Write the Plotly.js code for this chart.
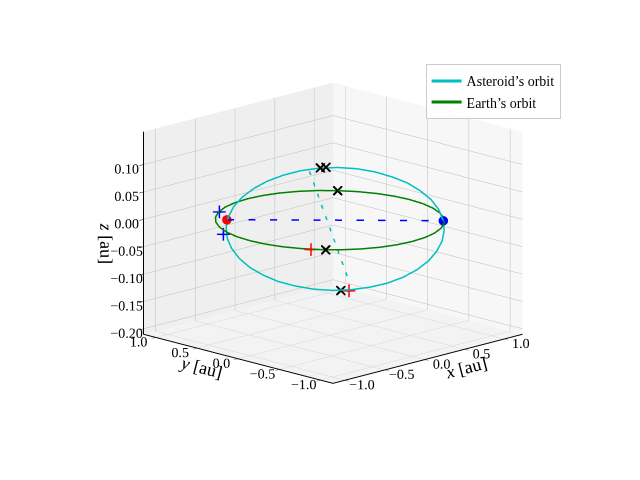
<!DOCTYPE html>
<html><head><meta charset="utf-8">
<script src="https://cdn.plot.ly/plotly-3.0.1.min.js"></script>
<style>html,body{margin:0;padding:0;background:#fff}#chart{width:640px;height:480px}#err{position:absolute;left:5px;top:5px;font:12px sans-serif;color:red}</style>
</head><body><div id="chart"></div><div id="err"></div>
<script>
// Earth's orbit (unit circle in the ecliptic), sampled every 10 degrees
const earthX = [1, 0.985, 0.940, 0.866, 0.766, 0.643, 0.5, 0.342, 0.174, 0, -0.174, -0.342, -0.5, -0.643, -0.766, -0.866, -0.940, -0.985, -1, -0.985, -0.940, -0.866, -0.766, -0.643, -0.5, -0.342, -0.174, 0, 0.174, 0.342, 0.5, 0.643, 0.766, 0.866, 0.940, 0.985, 1];
const earthY = [0, 0.174, 0.342, 0.5, 0.643, 0.766, 0.866, 0.940, 0.985, 1, 0.985, 0.940, 0.866, 0.766, 0.643, 0.5, 0.342, 0.174, 0, -0.174, -0.342, -0.5, -0.643, -0.766, -0.866, -0.940, -0.985, -1, -0.985, -0.940, -0.866, -0.766, -0.643, -0.5, -0.342, -0.174, 0];
const earthZ = [0,0,0,0,0,0,0,0,0,0,0,0,0,0,0,0,0,0,0,0,0,0,0,0,0,0,0,0,0,0,0,0,0,0,0,0,0];

// Asteroid's orbit (inclined ellipse)
const astX = [-0.725, -0.784, -0.816, -0.818, -0.792, -0.737, -0.657, -0.552, -0.426, -0.284, -0.129, 0.035, 0.201, 0.365, 0.522, 0.667, 0.795, 0.904, 0.989, 1.048, 1.080, 1.082, 1.056, 1.001, 0.921, 0.816, 0.690, 0.548, 0.393, 0.229, 0.063, -0.101, -0.258, -0.403, -0.531, -0.640, -0.725];
const astY = [-0.345, -0.191, -0.029, 0.136, 0.299, 0.454, 0.598, 0.725, 0.832, 0.916, 0.974, 1.004, 1.005, 0.978, 0.923, 0.842, 0.738, 0.612, 0.470, 0.316, 0.154, -0.011, -0.174, -0.329, -0.472, -0.600, -0.707, -0.791, -0.848, -0.878, -0.880, -0.853, -0.798, -0.717, -0.612, -0.487, -0.345];
const astZ = [0.131, 0.119, 0.103, 0.083, 0.060, 0.035, 0.007, -0.021, -0.050, -0.077, -0.103, -0.127, -0.147, -0.164, -0.176, -0.184, -0.187, -0.185, -0.178, -0.167, -0.151, -0.131, -0.108, -0.082, -0.055, -0.026, 0.002, 0.030, 0.056, 0.079, 0.100, 0.116, 0.129, 0.137, 0.140, 0.138, 0.131];

// Line of nodes (blue dashed) and apsidal line (cyan dashed)
const nodeX = [-0.636, 0.700];
const nodeY = [0.636, -0.700];
const nodeZ = [0, 0];
const apsX = [-0.669, 0.828];
const apsY = [-0.399, 0.557];
const apsZ = [0.130, -0.169];

// Point markers
const redDotX = [-0.636], redDotY = [0.636], redDotZ = [0];
const blueDotX = [0.700], blueDotY = [-0.700], blueDotZ = [0];
const blackXX = [-0.636, -0.613, 0.765, -0.744, 0.846];
const blackXY = [-0.500, -0.545, 0.644, -0.669, 0.684];
const blackXZ = [0.139, 0.141, 0, 0, -0.187];
const redPlusX = [-0.825, 0.895];
const redPlusY = [-0.566, 0.635];
const redPlusZ = [0, -0.187];
const bluePlusX = [-0.487, -0.501];
const bluePlusY = [0.873, 0.811];
const bluePlusZ = [0, -0.038];

// Ticks
const xyTicks = [-1.0, -0.5, 0.0, 0.5, 1.0];
const xyTickText = ['\u22121.0', '\u22120.5', '0.0', '0.5', '1.0'];
const zTicks = [-0.20, -0.15, -0.10, -0.05, 0.00, 0.05, 0.10];
const zTickText = ['\u22120.20\u00a0\u00a0', '\u22120.15\u00a0\u00a0', '\u22120.10\u00a0\u00a0', '\u22120.05\u00a0\u00a0', '0.00\u00a0\u00a0', '0.05\u00a0\u00a0', '0.10\u00a0\u00a0'];

const FONT = 'Liberation Serif, DejaVu Serif, serif';

const traces = [
  {type:'scatter3d', mode:'lines', name:'Asteroid\u2019s orbit', x:astX, y:astY, z:astZ,
   line:{color:'#00bfbf', width:3}, hoverinfo:'skip'},
  {type:'scatter3d', mode:'lines', name:'Earth\u2019s orbit', x:earthX, y:earthY, z:earthZ,
   line:{color:'#008000', width:3}, hoverinfo:'skip'},
  {type:'scatter3d', mode:'lines', showlegend:false, x:nodeX, y:nodeY, z:nodeZ,
   line:{color:'#0000ff', width:3, dash:'longdash'}, hoverinfo:'skip'},
  {type:'scatter3d', mode:'lines', showlegend:false, x:apsX, y:apsY, z:apsZ,
   line:{color:'#00bfbf', width:3, dash:'longdash'}, hoverinfo:'skip'},
  {type:'scatter3d', mode:'markers', showlegend:false, x:redDotX, y:redDotY, z:redDotZ,
   marker:{color:'#ff0000', size:5.5, symbol:'circle'}, hoverinfo:'skip'},
  {type:'scatter3d', mode:'markers', showlegend:false, x:blueDotX, y:blueDotY, z:blueDotZ,
   marker:{color:'#0000ff', size:5.5, symbol:'circle'}, hoverinfo:'skip'},
  {type:'scatter3d', mode:'markers', showlegend:false, x:blackXX, y:blackXY, z:blackXZ,
   marker:{color:'#000000', size:2.2, symbol:'x'}, hoverinfo:'skip'},
  {type:'scatter3d', mode:'markers', showlegend:false, x:redPlusX, y:redPlusY, z:redPlusZ,
   marker:{color:'#ff0000', size:7, symbol:'cross'}, hoverinfo:'skip'},
  {type:'scatter3d', mode:'markers', showlegend:false, x:bluePlusX, y:bluePlusY, z:bluePlusZ,
   marker:{color:'#0000ff', size:7, symbol:'cross'}, hoverinfo:'skip'}
];

function axis(bg, range, tv, tt, title) {
  return {
    range: range, autorange: false,
    tickmode: 'array', tickvals: tv, ticktext: tt, tickangle: 0,
    showbackground: true, backgroundcolor: bg,
    gridcolor: '#bdbdbd', gridwidth: 1,
    showline: true, linecolor: '#000000', linewidth: 2,
    ticks: 'outside', ticklen: 6, tickcolor: '#000000',
    zeroline: false, showspikes: false,
    tickfont: {family: FONT, size: 13, color: '#000'},
    title: {text: title, font: {family: FONT, size: 18, color: '#000'}}
  };
}

const r = 1.70;
const elevCos = 0.683, elevSin = 0.259;
const layout = {
  width: 640, height: 480,
  margin: {l:0, r:0, t:0, b:0},
  paper_bgcolor: '#ffffff',
  showlegend: true,
  legend: {x: 0.665, y: 0.866, xanchor: 'left', yanchor: 'top',
           font: {family: FONT, size: 14, color: '#000'},
           bgcolor: 'rgba(255,255,255,0.85)', bordercolor: '#cccccc', borderwidth: 1},
  scene: {
    domain: {x: [0.04, 1], y: [0.03, 1]},
    aspectmode: 'manual', aspectratio: {x: 1.15, y: 1.15, z: 0.90},
    xaxis: axis('rgb(247,247,247)', [-1.15, 1.23], xyTicks, xyTickText, '<i>x</i> [au]'),
    yaxis: axis('rgb(239,239,239)', [-1.15, 1.15], xyTicks, xyTickText, '<i>y</i> [au]'),
    zaxis: axis('rgb(243,243,243)', [-0.21, 0.16], zTicks, zTickText, '<i>z</i> [au]'),
    camera: {
      eye: {x: -elevCos * r, y: -elevCos * r, z: elevSin * r},
      center: {x: 0, y: 0, z: 0},
      up: {x: 0, y: 0, z: 1},
      projection: {type: 'orthographic'}
    }
  }
};

Plotly.newPlot('chart', traces, layout, {displayModeBar: false})
  .catch(e => { document.getElementById('err').textContent = 'ERR ' + e; });
</script></body></html>
